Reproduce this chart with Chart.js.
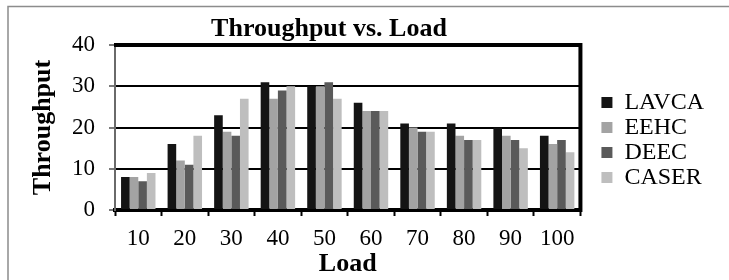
<!DOCTYPE html>
<html>
<head>
<meta charset="utf-8">
<script src="https://cdn.jsdelivr.net/npm/chart.js@4/dist/chart.umd.min.js"></script>
<style>
  html, body { margin: 0; padding: 0; background: #ffffff; }
  #wrap { width: 729px; height: 280px; }
</style>
</head>
<body>
<div id="wrap"><canvas id="c" width="729" height="280"></canvas></div>
<script>
const chartTitle = "Throughput vs. Load";
const xTitle = "Load";
const yTitle = "Throughput";
const categories = ["10", "20", "30", "40", "50", "60", "70", "80", "90", "100"];
const seriesNames = ["LAVCA", "EEHC", "DEEC", "CASER"];
const lavca = [8, 16, 23, 31, 30, 26, 21, 21, 20, 18];
const eehc  = [8, 12, 19, 27, 30, 24, 20, 18, 18, 16];
const deec  = [7, 11, 18, 29, 31, 24, 19, 17, 17, 17];
const caser = [9, 18, 27, 30, 27, 24, 19, 17, 15, 14];
const yTicks = [0, 10, 20, 30, 40];

const colors = ["#141414", "#a3a3a3", "#5a5a5a", "#bebebe"];
const FONT = "'Liberation Serif', 'Times New Roman', serif";

const frameAndTitle = {
  id: 'frameAndTitle',
  beforeDraw(chart) {
    const ctx = chart.ctx;
    ctx.save();
    ctx.strokeStyle = '#8c8c8c';
    ctx.lineWidth = 1.5;
    ctx.beginPath();
    ctx.moveTo(8, 280);
    ctx.lineTo(8, 6.5);
    ctx.lineTo(729, 6.5);
    ctx.stroke();
    ctx.restore();
  },
  afterDraw(chart) {
    const ctx = chart.ctx;
    const a = chart.chartArea;
    ctx.save();
    ctx.strokeStyle = '#000000';
    ctx.lineWidth = 4;
    ctx.beginPath();
    ctx.moveTo(a.left - 1, a.top);
    ctx.lineTo(a.right, a.top);
    ctx.lineTo(a.right, a.bottom + 2);
    ctx.stroke();
    ctx.fillStyle = '#000000';
    ctx.font = "bold 26px " + FONT;
    ctx.textAlign = 'center';
    ctx.textBaseline = 'alphabetic';
    ctx.fillText(chartTitle, 329, 36);
    ctx.restore();
  }
};

new Chart(document.getElementById('c'), {
  type: 'bar',
  data: {
    labels: categories,
    datasets: [
      { label: seriesNames[0], data: lavca, backgroundColor: colors[0] },
      { label: seriesNames[1], data: eehc,  backgroundColor: colors[1] },
      { label: seriesNames[2], data: deec,  backgroundColor: colors[2] },
      { label: seriesNames[3], data: caser, backgroundColor: colors[3] }
    ]
  },
  options: {
    responsive: false,
    devicePixelRatio: 1,
    animation: false,
    layout: { padding: { left: 9, right: 15, top: 0, bottom: 0 } },
    datasets: { bar: { categoryPercentage: 0.74, barPercentage: 1.0, borderWidth: 0 } },
    plugins: {
      title: { display: false },
      tooltip: { enabled: false },
      legend: {
        display: true,
        position: 'right',
        align: 'center',
        labels: {
          font: { family: FONT, size: 24 },
          color: '#000000',
          boxWidth: 11,
          boxHeight: 11,
          padding: 1
        }
      }
    },
    scales: {
      x: {
        type: 'category',
        position: 'bottom',
        grid: {
          display: true,
          drawOnChartArea: false,
          drawTicks: true,
          tickLength: 6,
          tickColor: '#000000',
          tickWidth: 2,
          offset: true
        },
        border: { display: true, color: '#000000', width: 4 },
        ticks: {
          font: { family: FONT, size: 23 },
          color: '#000000',
          padding: 9,
          maxRotation: 0,
          autoSkip: false
        },
        title: {
          display: true,
          text: xTitle,
          font: { family: FONT, size: 26, weight: 'bold' },
          color: '#000000',
          padding: { top: 0, bottom: 0 }
        },
        afterFit(s) { s.height = 70; }
      },
      xTop: {
        type: 'category',
        position: 'top',
        display: true,
        grid: { display: false },
        border: { display: false },
        ticks: { display: false },
        afterFit(s) { s.height = 45; }
      },
      y: {
        position: 'left',
        min: 0,
        max: 40,
        afterBuildTicks(s) { s.ticks = yTicks.map(v => ({ value: v })); },
        grid: {
          display: true,
          color: '#000000',
          lineWidth: 2,
          drawTicks: true,
          tickLength: 6,
          tickColor: '#7a7a7a',
          tickWidth: 2
        },
        border: { display: true, color: '#6a6a6a', width: 2 },
        ticks: {
          font: { family: FONT, size: 23 },
          color: '#000000',
          padding: 14
        },
        title: {
          display: true,
          text: yTitle,
          font: { family: FONT, size: 26, weight: 'bold' },
          color: '#000000',
          padding: { top: 19, bottom: 0 }
        },
        afterFit(s) { s.width = 106; }
      },
      yGap: {
        position: 'right',
        display: true,
        min: 0,
        max: 40,
        grid: { display: false },
        border: { display: false },
        ticks: { display: false },
        afterFit(s) { s.width = 20; }
      }
    }
  },
  plugins: [frameAndTitle]
});
</script>
</body>
</html>
